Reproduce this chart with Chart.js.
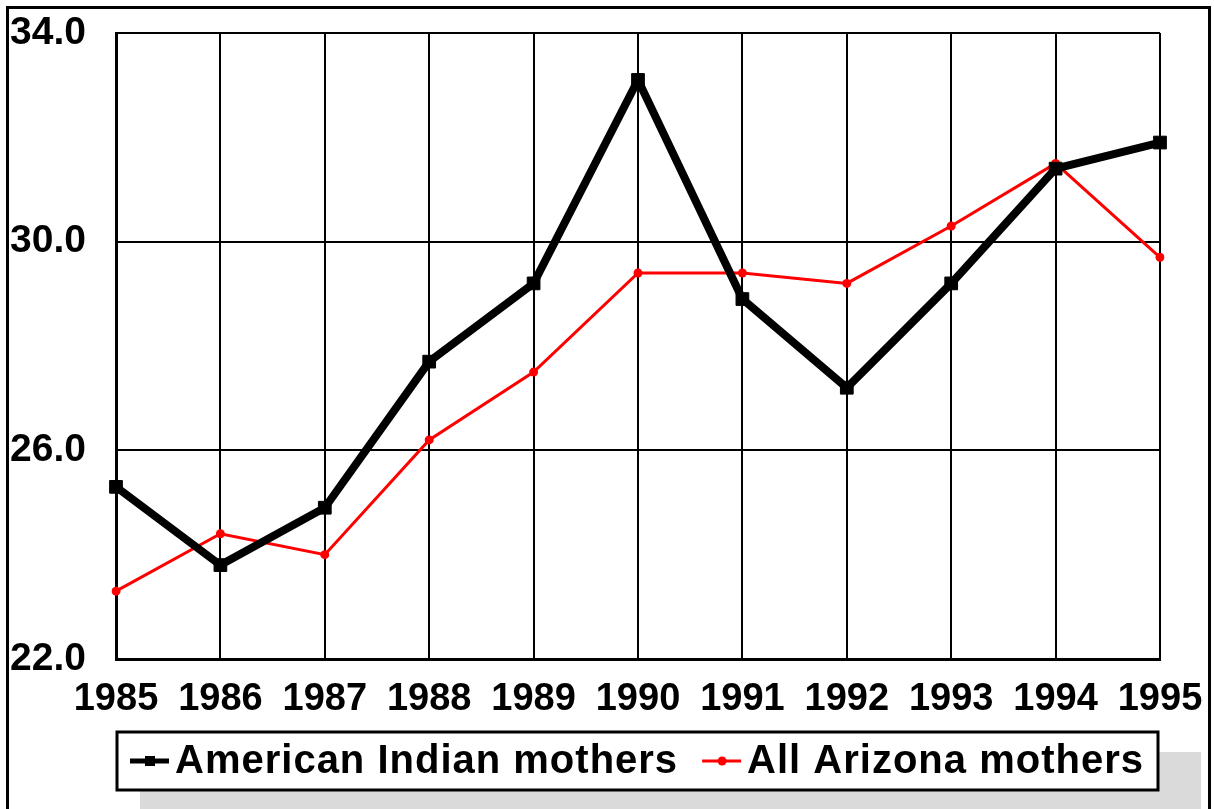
<!DOCTYPE html>
<html>
<head>
<meta charset="utf-8">
<script src="https://cdn.jsdelivr.net/npm/chart.js@4.4.1/dist/chart.umd.min.js"></script>
<style>
    html, body { margin: 0; padding: 0; background: #fff; }
    #wrap { width: 1214px; height: 809px; position: relative; }
</style>
</head>
<body>
<div id="wrap"><canvas id="chart" width="1214" height="809"></canvas></div>
<script>
// Data
const years = ['1985', '1986', '1987', '1988', '1989', '1990', '1991', '1992', '1993', '1994', '1995'];
const americanIndian = [25.3, 23.8, 24.9, 27.7, 29.2, 33.1, 28.9, 27.2, 29.2, 31.4, 31.9];
const allArizona = [23.3, 24.4, 24.0, 26.2, 27.5, 29.4, 29.4, 29.2, 30.3, 31.5, 29.7];
const seriesNames = ['American Indian mothers', 'All Arizona mothers'];

const FONT = '"Liberation Sans", Arial, Helvetica, sans-serif';

// Outer frame around the whole figure
const framePlugin = {
    id: 'frame',
    afterDraw(chart) {
        const ctx = chart.ctx;
        ctx.save();
        ctx.strokeStyle = '#000';
        ctx.lineWidth = 3;
        ctx.strokeRect(7.5, 7.5, 1202, 900);
        ctx.restore();
    }
};

// Boxed legend with a drop shadow, below the x axis
const boxLegendPlugin = {
    id: 'boxLegend',
    afterDraw(chart) {
        const ctx = chart.ctx;
        const box = { x: 117, y: 732, w: 1041, h: 58 };
        ctx.save();

        // shadow
        ctx.fillStyle = '#dadada';
        ctx.fillRect(box.x + 23, box.y + 20, box.w + 20, 100);

        // box
        ctx.fillStyle = '#fff';
        ctx.fillRect(box.x, box.y, box.w, box.h);
        ctx.strokeStyle = '#000';
        ctx.lineWidth = 3;
        ctx.strokeRect(box.x, box.y, box.w, box.h);

        ctx.font = 'bold 40px ' + FONT;
        ctx.letterSpacing = '1px';
        ctx.textBaseline = 'middle';
        const cy = box.y + 29;
        let x = 130;
        chart.data.datasets.forEach((ds) => {
            const color = ds.borderColor;
            ctx.strokeStyle = color;
            ctx.fillStyle = color;
            ctx.lineWidth = ds.pointStyle === 'rect' ? 5 : 3;
            ctx.beginPath();
            ctx.moveTo(x, cy);
            ctx.lineTo(x + 39, cy);
            ctx.stroke();
            if (ds.pointStyle === 'rect') {
                ctx.fillRect(x + 15, cy - 5, 10, 10);
            } else {
                ctx.beginPath();
                ctx.arc(x + 20, cy, 4.5, 0, Math.PI * 2);
                ctx.fill();
            }
            ctx.fillStyle = '#000';
            ctx.fillText(ds.label, x + 45, cy + 1);
            x += 45 + ctx.measureText(ds.label).width + 24;
        });
        ctx.restore();
    }
};

const ctx = document.getElementById('chart').getContext('2d');
new Chart(ctx, {
    type: 'line',
    data: {
        labels: years,
        datasets: [
            {
                label: seriesNames[0],
                data: americanIndian,
                borderColor: '#000',
                backgroundColor: '#000',
                borderWidth: 8,
                pointStyle: 'rect',
                pointRadius: 9,
                pointBorderWidth: 1,
                tension: 0
            },
            {
                label: seriesNames[1],
                data: allArizona,
                borderColor: '#ff0000',
                backgroundColor: '#ff0000',
                borderWidth: 3,
                pointStyle: 'circle',
                pointRadius: 4.5,
                pointBorderWidth: 0,
                tension: 0
            }
        ]
    },
    options: {
        responsive: false,
        animation: false,
        layout: { padding: { top: 33, right: 54, left: 10, bottom: 0 } },
        plugins: {
            legend: { display: false },
            tooltip: { enabled: false }
        },
        scales: {
            x: {
                type: 'category',
                offset: false,
                afterFit(scale) {
                    scale.height = 150;
                    scale.paddingLeft = 0;
                    scale.paddingRight = 0;
                },
                grid: { color: '#000', lineWidth: 2, drawTicks: false },
                border: { color: '#000', width: 3 },
                ticks: {
                    color: '#000',
                    padding: 18,
                    maxRotation: 0,
                    autoSkip: false,
                    font: { family: FONT, size: 38, weight: 'bold' }
                }
            },
            y: {
                min: 22,
                max: 34,
                afterFit(scale) {
                    scale.width = 106;
                    scale.paddingTop = 0;
                    scale.paddingBottom = 0;
                },
                grid: { color: '#000', lineWidth: 2, drawTicks: false },
                border: { color: '#000', width: 3 },
                ticks: {
                    stepSize: 4,
                    color: '#000',
                    crossAlign: 'far',
                    padding: 0,
                    font: { family: FONT, size: 39, weight: 'bold' },
                    callback: (v) => Number(v).toFixed(1)
                }
            }
        }
    },
    plugins: [framePlugin, boxLegendPlugin]
});
</script>
</body>
</html>
